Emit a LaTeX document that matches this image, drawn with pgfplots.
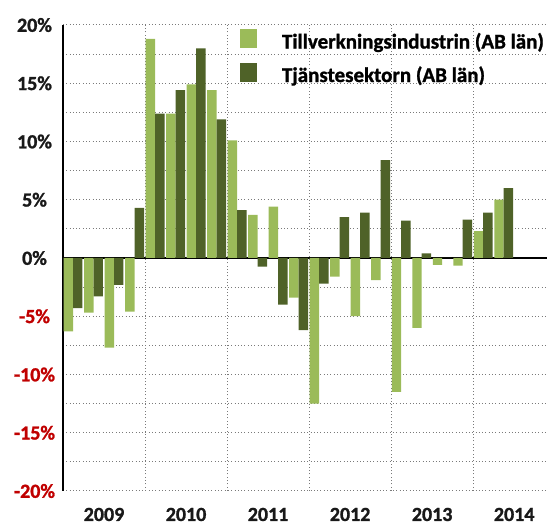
\documentclass[border=0pt]{standalone}
\usepackage{pgfplots}
\pgfplotsset{compat=1.18}
\usepackage{pgfplotstable}
\usepackage{fontspec}
\setmainfont{Carlito}[BoldFeatures={FakeBold=1.2}]
\definecolor{lightg}{HTML}{9BBB59}
\definecolor{darkg}{HTML}{4F6228}
\definecolor{negred}{HTML}{C00000}
\definecolor{gridc}{HTML}{7A7A7A}

\pgfplotstableread{
q m s
0 -6.3 -4.3
1 -4.7 -3.3
2 -7.7 -2.3
3 -4.6 4.3
4 18.8 12.4
5 12.4 14.4
6 14.9 18.0
7 14.4 11.9
8 10.1 4.1
9 3.7 -0.75
10 4.4 -4.0
11 -3.4 -6.2
12 -12.5 -2.2
13 -1.6 3.5
14 -5.0 3.9
15 -1.9 8.4
16 -11.5 3.2
17 -6.0 0.4
18 -0.6 0
19 -0.65 3.3
20 2.3 3.9
21 5.0 6.0
}\data

\begin{document}
\begin{tikzpicture}
\useasboundingbox (-63pt,-35pt) rectangle (484pt,491pt);
\begin{axis}[
 at={(0pt,0pt)}, anchor=south west,
 width=484pt, height=466pt, scale only axis,
 xmin=0, xmax=23.6, ymin=-20, ymax=20,
 ybar, bar width=0.46,
 axis x line*=bottom, axis y line*=left,
 x axis line style={draw=none},
 y axis line style={black, line width=2pt},
 major tick length=0pt, minor tick length=0pt,
 xtick={2,6,10,14,18,22}, xticklabels={2009,2010,2011,2012,2013,2014},
 minor xtick={4,8,12,16,20}, xminorgrids,
 ytick={-20,-15,...,20},
 yticklabels={{\color{negred}-20\%},{\color{negred}-15\%},{\color{negred}-10\%},{\color{negred}-5\%},0\%,5\%,10\%,15\%,20\%},
 minor ytick={-17.5,-12.5,...,17.5},
 ymajorgrids, yminorgrids,
 major grid style={gridc, line width=1pt, dash pattern=on 1pt off 2.3pt},
 minor grid style={gridc, line width=1pt, dash pattern=on 1pt off 2.3pt},
 extra y ticks={0}, extra y tick labels={},
 extra y tick style={grid=major, major grid style={black, line width=1.6pt, solid}},
 tick label style={font=\fontsize{20}{24}\selectfont\bfseries, text=black!90},
 /pgf/number format/assume math mode=true,
 yticklabel style={anchor=center, xshift=-28.5pt},
 xticklabel style={anchor=center, yshift=-23.5pt},
 legend style={draw=none, fill=none, at={(rel axis cs:0.3657,0.9914)}, anchor=north west,
   inner sep=0pt, outer sep=0pt, font=\fontsize{21}{24}\selectfont\bfseries, row sep=9pt,
   nodes={inner sep=0pt, text height=14pt, text depth=5pt},
   /tikz/every odd column/.style={column sep=25pt}},
 legend cell align=left,
 legend image code/.code={\fill[#1] (0pt,-4pt) rectangle (17pt,15pt);},
]
\addplot[fill=lightg, draw=none, bar shift=0pt] table[x expr=\thisrow{q}+0.26, y=m]{\data};
\addplot[fill=darkg, draw=none, bar shift=0pt] table[x expr=\thisrow{q}+0.72, y=s]{\data};
\legend{Tillverkningsindustrin (AB län), Tjänstesektorn (AB län)}
\end{axis}
\end{tikzpicture}
\end{document}
